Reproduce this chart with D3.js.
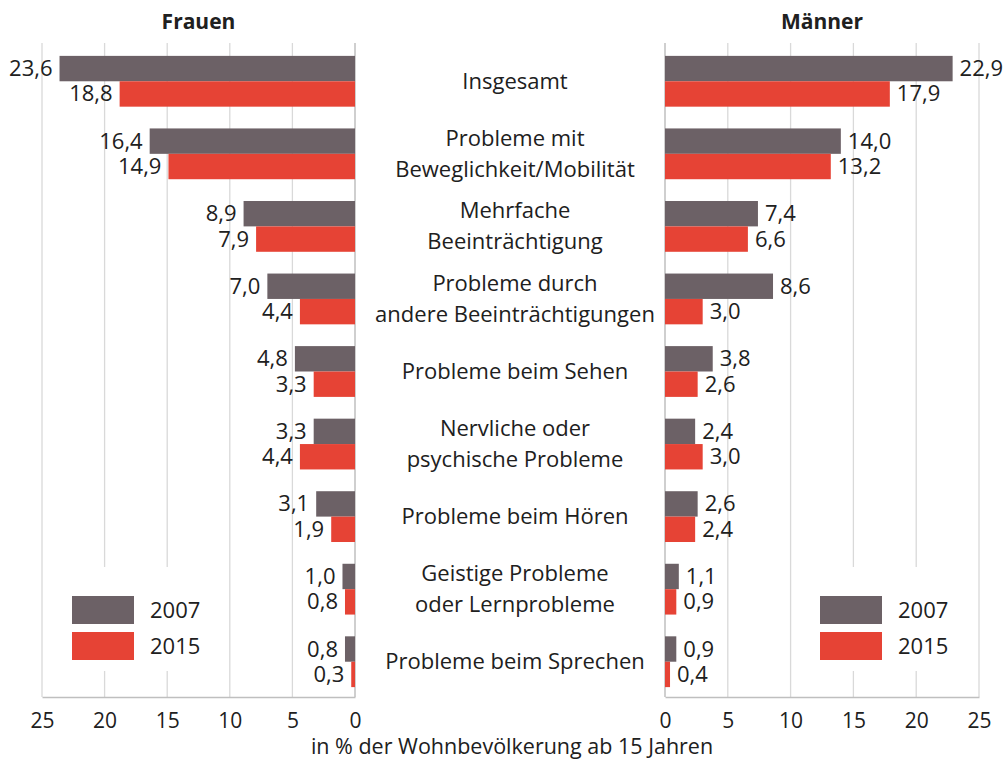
<!DOCTYPE html>
<html><head><meta charset="utf-8">
<script src="https://cdn.jsdelivr.net/npm/d3@7"></script>
<style>
body{margin:0;background:#fff;}
svg{display:block;font-family:"Open Sans",sans-serif;}
</style></head>
<body><svg id="c" width="1007" height="762"></svg>
<script>
const categories = [
  "Insgesamt",
  "Probleme mit|Beweglichkeit/Mobilität",
  "Mehrfache|Beeinträchtigung",
  "Probleme durch|andere Beeinträchtigungen",
  "Probleme beim Sehen",
  "Nervliche oder|psychische Probleme",
  "Probleme beim Hören",
  "Geistige Probleme|oder Lernprobleme",
  "Probleme beim Sprechen"
];
const series = ["2007", "2015"];
const frauen2007 = [23.6, 16.4, 8.9, 7.0, 4.8, 3.3, 3.1, 1.0, 0.8];
const frauen2015 = [18.8, 14.9, 7.9, 4.4, 3.3, 4.4, 1.9, 0.8, 0.3];
const maenner2007 = [22.9, 14.0, 7.4, 8.6, 3.8, 2.4, 2.6, 1.1, 0.9];
const maenner2015 = [17.9, 13.2, 6.6, 3.0, 2.6, 3.0, 2.4, 0.9, 0.4];
const tickValues = [0, 5, 10, 15, 20, 25];
const panelTitles = ["Frauen", "Männer"];
const axisTitle = "in % der Wohnbevölkerung ab 15 Jahren";

const colors = {"2007": "#6c6166", "2015": "#e64335"};
const textColor = "#202020";
const fmt = v => d3.format(".1f")(v).replace(".", ",");

const svg = d3.select("#c");
const plotTop = 43, plotBottom = 697;

const y = d3.scaleBand().domain(categories).range([45, 698]).paddingInner(0.3).paddingOuter(0.15);
const ys = d3.scaleBand().domain(series).range([0, y.bandwidth()]);

const panels = [
  {title: panelTitles[0], x: d3.scaleLinear().domain([0, 25]).range([355, 42]), data: {"2007": frauen2007, "2015": frauen2015}, side: -1, legendX: 72},
  {title: panelTitles[1], x: d3.scaleLinear().domain([0, 25]).range([665, 979]), data: {"2007": maenner2007, "2015": maenner2015}, side: 1, legendX: 820}
];

panels.forEach(p => {
  const g = svg.append("g");
  const x = p.x;
  g.selectAll("line.grid").data(tickValues.filter(t => t !== 0)).join("line")
    .attr("x1", d => x(d)).attr("x2", d => x(d))
    .attr("y1", plotTop).attr("y2", plotBottom)
    .attr("stroke", "#d9d9d9").attr("stroke-width", 1.3);
  g.append("rect").attr("x", p.legendX - 14).attr("y", 567).attr("width", 166).attr("height", 104).attr("fill", "#fff");
  const axis = g.append("g").attr("transform", `translate(0,${plotBottom})`)
    .call(d3.axisBottom(x).tickValues(tickValues).tickSize(0).tickPadding(16).tickFormat(d3.format("d")));
  axis.select(".domain").attr("stroke", "#bfbfbf").attr("stroke-width", 1.5);
  axis.selectAll("text").attr("font-size", 21).attr("fill", textColor).attr("font-family", "Open Sans");
  g.append("line").attr("x1", x(0)).attr("x2", x(0)).attr("y1", plotTop).attr("y2", plotBottom)
    .attr("stroke", "#bfbfbf").attr("stroke-width", 1.5);
  series.forEach(s => {
    const vals = p.data[s];
    g.selectAll(null).data(vals).join("rect")
      .attr("x", d => Math.min(x(0), x(d)))
      .attr("width", d => Math.abs(x(d) - x(0)))
      .attr("y", (d, i) => y(categories[i]) + ys(s))
      .attr("height", ys.bandwidth())
      .attr("fill", colors[s]);
    g.selectAll(null).data(vals).join("text")
      .attr("x", d => x(d) + p.side * 7)
      .attr("y", (d, i) => y(categories[i]) + ys(s) + ys.bandwidth() / 2 + 7.5)
      .attr("text-anchor", p.side < 0 ? "end" : "start")
      .attr("font-size", 22).attr("fill", textColor)
      .text(d => fmt(d));
  });
  g.append("text").attr("x", (x.range()[0] + x.range()[1]) / 2).attr("y", 29)
    .attr("text-anchor", "middle").attr("font-size", 21).attr("font-weight", "bold").attr("fill", textColor)
    .text(p.title);
  series.forEach((s, i) => {
    g.append("rect").attr("x", p.legendX).attr("y", 596 + i * 36).attr("width", 62).attr("height", 28).attr("fill", colors[s]);
    g.append("text").attr("x", p.legendX + 78).attr("y", 618 + i * 36).attr("font-size", 22).attr("fill", textColor).text(s);
  });
});

const cx = 515;
categories.forEach(c => {
  const lines = c.split("|");
  const mid = y(c) + y.bandwidth() / 2 + 7.5;
  lines.forEach((l, i) => {
    svg.append("text").attr("x", cx)
      .attr("y", mid + (i - (lines.length - 1) / 2) * 31)
      .attr("text-anchor", "middle").attr("font-size", 22).attr("fill", textColor)
      .text(l);
  });
});

svg.append("text").attr("x", 512).attr("y", 754).attr("text-anchor", "middle")
  .attr("font-size", 21.5).attr("fill", textColor).text(axisTitle);
</script></body></html>
